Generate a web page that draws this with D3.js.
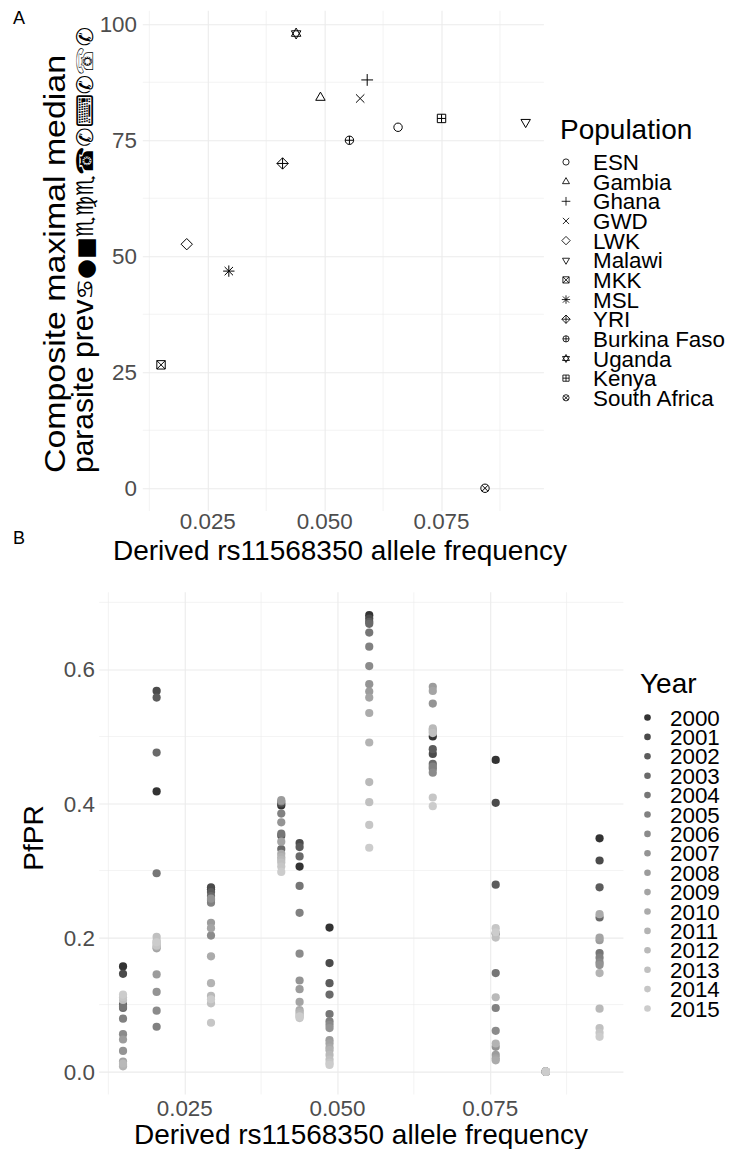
<!DOCTYPE html>
<html><head><meta charset="utf-8">
<script src="https://cdn.jsdelivr.net/npm/d3@7"></script>
<style>body{margin:0;background:#fff}svg{display:block}text{font-family:"Liberation Sans",Arial,Helvetica,sans-serif}</style>
</head><body>
<script>
// ---------- Panel A data ----------
const populations = ["ESN","Gambia","Ghana","GWD","LWK","Malawi","MKK","MSL","YRI","Burkina Faso","Uganda","Kenya","South Africa"];
const alleleFreq = [0.0657,0.0491,0.0591,0.0576,0.0205,0.0930,0.0150,0.0295,0.0410,0.0553,0.0439,0.0750,0.0843];
const maxPrevalence = [77.8,84.2,88.0,84.0,52.6,78.9,26.6,46.8,70.0,75.0,98.0,79.7,0];
const shapeCodes = [1,2,3,4,5,6,7,8,9,10,11,12,13];
const yTicksA = [0,25,50,75,100];
const xTicks = [0.025,0.050,0.075];
const xTickLabels = ["0.025","0.050","0.075"];

// ---------- Panel B data ----------
const years = d3.range(2000,2016);
const bPopulations = ["MKK","LWK","MSL","YRI","Uganda","Gambia","Burkina Faso","ESN","Kenya","South Africa","Malawi"];
const bFreq = [0.0149,0.0204,0.0293,0.0408,0.0438,0.0487,0.0552,0.0656,0.0759,0.0841,0.0929];
const pfprMKK     = [0.157,0.146,0.100,0.095,0.097,0.079,0.056,0.031,0.048,0.015,0.010,0.008,0.012,0.107,0.111,0.115];
const pfprLWK     = [0.418,0.568,0.558,0.476,0.296,0.067,0.091,0.119,0.145,0.184,0.186,0.191,0.195,0.201,0.188,0.193];
const pfprMSL     = [0.272,0.275,0.268,0.262,0.256,0.252,0.203,0.258,0.222,0.214,0.172,0.132,0.113,0.102,0.073,0.108];
const pfprYRI     = [0.397,0.400,0.352,0.332,0.355,0.385,0.403,0.372,0.405,0.343,0.325,0.320,0.316,0.312,0.306,0.298];
const pfprUganda  = [0.306,0.341,0.335,0.321,0.277,0.237,0.176,0.136,0.123,0.104,0.092,0.089,0.086,0.083,0.080,0.082];
const pfprGambia  = [0.215,0.162,0.132,0.115,0.086,0.075,0.070,0.065,0.047,0.042,0.036,0.032,0.025,0.018,0.013,0.010];
const pfprBurkina = [0.681,0.676,0.671,0.668,0.655,0.634,0.605,0.578,0.567,0.558,0.535,0.491,0.432,0.402,0.368,0.334];
const pfprESN     = [0.500,0.474,0.481,0.459,0.452,0.455,0.446,0.549,0.574,0.568,0.510,0.507,0.512,0.505,0.409,0.396];
const pfprKenya   = [0.465,0.401,0.279,0.206,0.147,0.095,0.061,0.037,0.025,0.020,0.017,0.042,0.111,0.200,0.214,0.208];
const pfprSAfrica = [0,0,0,0,0,0,0,0,0,0,0,0,0,0,0,0];
const pfprMalawi  = [0.348,0.315,0.275,0.230,0.177,0.170,0.163,0.159,0.196,0.200,0.235,0.147,0.094,0.065,0.058,0.052];
const pfprSeries = [pfprMKK,pfprLWK,pfprMSL,pfprYRI,pfprUganda,pfprGambia,pfprBurkina,pfprESN,pfprKenya,pfprSAfrica,pfprMalawi];
const yTicksB = [0,0.2,0.4,0.6];
const yTickLabelsB = ["0.0","0.2","0.4","0.6"];

// ---------- setup ----------
const W=730,H=1149;
const svg=d3.select("body").append("svg").attr("width",W).attr("height",H);
svg.append("rect").attr("width",W).attr("height",H).attr("fill","#fff");
const GRID="#ebebeb", TICK="#4d4d4d";
function expand(ext){const d=(ext[1]-ext[0])*0.05;return [ext[0]-d,ext[1]+d];}

function greyAt(i,n){const g=2.2,s=Math.pow(0.2,g),e=Math.pow(0.8,g);const v=Math.pow(s+(e-s)*i/(n-1),1/g);const c=Math.round(v*255);return d3.rgb(c,c,c).formatHex();}
const colorYear=d3.scaleOrdinal().domain(years).range(years.map((y,i)=>greyAt(i,years.length)));

function shapePath(code,r){
  const p=d3.path();
  const sq=r, tri=r*1.3, dia=r*1.35;
  const circ=(rr)=>{p.moveTo(rr,0);p.arc(0,0,rr,0,2*Math.PI);};
  const plus=(h)=>{p.moveTo(-h,0);p.lineTo(h,0);p.moveTo(0,-h);p.lineTo(0,h);};
  const cross=(h)=>{p.moveTo(-h,-h);p.lineTo(h,h);p.moveTo(-h,h);p.lineTo(h,-h);};
  const triUp=()=>{p.moveTo(0,-tri);p.lineTo(tri*0.866,tri*0.5);p.lineTo(-tri*0.866,tri*0.5);p.closePath();};
  const triDn=()=>{p.moveTo(0,tri);p.lineTo(tri*0.866,-tri*0.5);p.lineTo(-tri*0.866,-tri*0.5);p.closePath();};
  const square=()=>{p.rect(-sq,-sq,2*sq,2*sq);};
  const diamond=()=>{p.moveTo(0,-dia);p.lineTo(dia,0);p.lineTo(0,dia);p.lineTo(-dia,0);p.closePath();};
  switch(code){
    case 1: circ(r); break;
    case 2: triUp(); break;
    case 3: plus(r*1.4); break;
    case 4: cross(r); break;
    case 5: diamond(); break;
    case 6: triDn(); break;
    case 7: square(); cross(sq); break;
    case 8: plus(r*1.35); cross(r); break;
    case 9: diamond(); plus(dia); break;
    case 10: circ(r); plus(r); break;
    case 11: triUp(); triDn(); break;
    case 12: square(); plus(sq); break;
    case 13: circ(r); cross(r*0.72); break;
  }
  return p.toString();
}

// ================= Panel A =================
const xA=d3.scaleLinear().domain(expand(d3.extent(alleleFreq))).range([142.8,543.9]);
const yA=d3.scaleLinear().domain(expand([0,d3.max(maxPrevalence)])).range([511,10.8]);
const gA=svg.append("g");
const minorX=[0.0125,0.0375,0.0625,0.0875];
gA.selectAll(".mxa").data(minorX).join("line").attr("x1",d=>xA(d)).attr("x2",d=>xA(d)).attr("y1",yA.range()[0]).attr("y2",yA.range()[1]).attr("stroke",GRID).attr("stroke-width",0.6);
gA.selectAll(".mya").data([12.5,37.5,62.5,87.5]).join("line").attr("y1",d=>yA(d)).attr("y2",d=>yA(d)).attr("x1",xA.range()[0]).attr("x2",xA.range()[1]).attr("stroke",GRID).attr("stroke-width",0.6);
gA.append("g").attr("transform",`translate(0,${yA.range()[0]})`)
  .call(d3.axisBottom(xA).tickValues(xTicks).tickSize(-(yA.range()[0]-yA.range()[1])).tickFormat(""))
  .call(g=>{g.select(".domain").remove();g.selectAll("line").attr("stroke",GRID).attr("stroke-width",1.1);});
gA.append("g").attr("transform",`translate(${xA.range()[0]},0)`)
  .call(d3.axisLeft(yA).tickValues(yTicksA).tickSize(-(xA.range()[1]-xA.range()[0])).tickFormat(""))
  .call(g=>{g.select(".domain").remove();g.selectAll("line").attr("stroke",GRID).attr("stroke-width",1.1);});
gA.selectAll(".ytl").data(yTicksA).join("text").attr("x",137).attr("y",d=>yA(d)+8).attr("text-anchor","end").attr("font-size",22.4).attr("fill",TICK).text(d=>d);
gA.selectAll(".xtl").data(xTicks).join("text").attr("x",d=>xA(d)).attr("y",529).attr("text-anchor","middle").attr("font-size",22.4).attr("fill",TICK).text((d,i)=>xTickLabels[i]);
gA.selectAll(".pt").data(populations).join("path")
  .attr("transform",(d,i)=>`translate(${xA(alleleFreq[i])},${yA(maxPrevalence[i])})`)
  .attr("d",(d,i)=>shapePath(shapeCodes[i],4.2)).attr("fill","none").attr("stroke","#000").attr("stroke-width",1);
// titles
svg.append("text").attr("x",340).attr("y",560).attr("text-anchor","middle").attr("font-size",28).attr("fill","#000").text("Derived rs11568350 allele frequency");
svg.append("text").attr("transform","translate(65,473) rotate(-90)").attr("font-size",30).attr("fill","#000").attr("textLength",418).attr("lengthAdjust","spacingAndGlyphs").text("Composite maximal median");
const yt2=svg.append("text").attr("transform","translate(93,473) rotate(-90)").attr("font-size",30).attr("fill","#000");
yt2.append("tspan").text("parasite prev");
yt2.append("tspan").attr("font-family","'DejaVu Sans'").attr("font-size",23).text("\u264B\uFE0E\u25CF\u25A0\u264F\uFE0E\u264D\uFE0E\u264F\uFE0E\u260E\uFE0E\u2706\u2328\uFE0E\u2706\u260F\u2706");
svg.append("text").attr("x",13).attr("y",24).attr("font-size",18).attr("fill","#000").text("A");
// legend A
svg.append("text").attr("x",560).attr("y",139).attr("font-size",28).attr("fill","#000").text("Population");
const legA=svg.append("g").selectAll("g").data(populations).join("g").attr("transform",(d,i)=>`translate(0,${162+i*19.65})`);
legA.append("path").attr("transform","translate(566,0)").attr("d",(d,i)=>shapePath(shapeCodes[i],3.1)).attr("fill","none").attr("stroke","#000").attr("stroke-width",0.85);
legA.append("text").attr("x",593).attr("y",8).attr("font-size",22.4).attr("fill","#000").text(d=>d);

// ================= Panel B =================
const xB=d3.scaleLinear().domain(expand(d3.extent(bFreq))).range([99.2,623.4]);
const yB=d3.scaleLinear().domain(expand([0,d3.max(pfprSeries.flat())])).range([1094.5,592.3]);
const gB=svg.append("g");
gB.selectAll(".mxb").data(minorX).join("line").attr("x1",d=>xB(d)).attr("x2",d=>xB(d)).attr("y1",yB.range()[0]).attr("y2",yB.range()[1]).attr("stroke",GRID).attr("stroke-width",0.6);
gB.selectAll(".myb").data([0.1,0.3,0.5,0.7]).join("line").attr("y1",d=>yB(d)).attr("y2",d=>yB(d)).attr("x1",xB.range()[0]).attr("x2",xB.range()[1]).attr("stroke",GRID).attr("stroke-width",0.6);
gB.append("g").attr("transform",`translate(0,${yB.range()[0]})`)
  .call(d3.axisBottom(xB).tickValues(xTicks).tickSize(-(yB.range()[0]-yB.range()[1])).tickFormat(""))
  .call(g=>{g.select(".domain").remove();g.selectAll("line").attr("stroke",GRID).attr("stroke-width",1.1);});
gB.append("g").attr("transform",`translate(${xB.range()[0]},0)`)
  .call(d3.axisLeft(yB).tickValues(yTicksB).tickSize(-(xB.range()[1]-xB.range()[0])).tickFormat(""))
  .call(g=>{g.select(".domain").remove();g.selectAll("line").attr("stroke",GRID).attr("stroke-width",1.1);});
gB.selectAll(".ytlb").data(yTicksB).join("text").attr("x",95).attr("y",d=>yB(d)+8).attr("text-anchor","end").attr("font-size",22.4).attr("fill",TICK).text((d,i)=>yTickLabelsB[i]);
gB.selectAll(".xtlb").data(xTicks).join("text").attr("x",d=>xB(d)).attr("y",1116).attr("text-anchor","middle").attr("font-size",22.4).attr("fill",TICK).text((d,i)=>xTickLabels[i]);
const ptsB=[];
years.forEach((yr,yi)=>{bPopulations.forEach((p,pi)=>{ptsB.push({year:yr,x:bFreq[pi],v:pfprSeries[pi][yi]});});});
gB.selectAll("circle").data(ptsB).join("circle").attr("cx",d=>xB(d.x)).attr("cy",d=>yB(d.v)).attr("r",4.1).attr("fill",d=>colorYear(d.year));
svg.append("text").attr("x",361).attr("y",1144).attr("text-anchor","middle").attr("font-size",28).attr("fill","#000").text("Derived rs11568350 allele frequency");
svg.append("text").attr("transform",`translate(43,838) rotate(-90)`).attr("text-anchor","middle").attr("font-size",28).attr("fill","#000").text("PfPR");
svg.append("text").attr("x",13).attr("y",544).attr("font-size",18).attr("fill","#000").text("B");
// legend B
svg.append("text").attr("x",640).attr("y",693).attr("font-size",28).attr("fill","#000").text("Year");
const legB=svg.append("g").selectAll("g").data(years).join("g").attr("transform",(d,i)=>`translate(0,${717.5+i*19.4})`);
legB.append("circle").attr("cx",647.5).attr("cy",0).attr("r",3.3).attr("fill",d=>colorYear(d));
legB.append("text").attr("x",670).attr("y",8).attr("font-size",22.4).attr("fill","#000").text(d=>d);
</script>
</body></html>
